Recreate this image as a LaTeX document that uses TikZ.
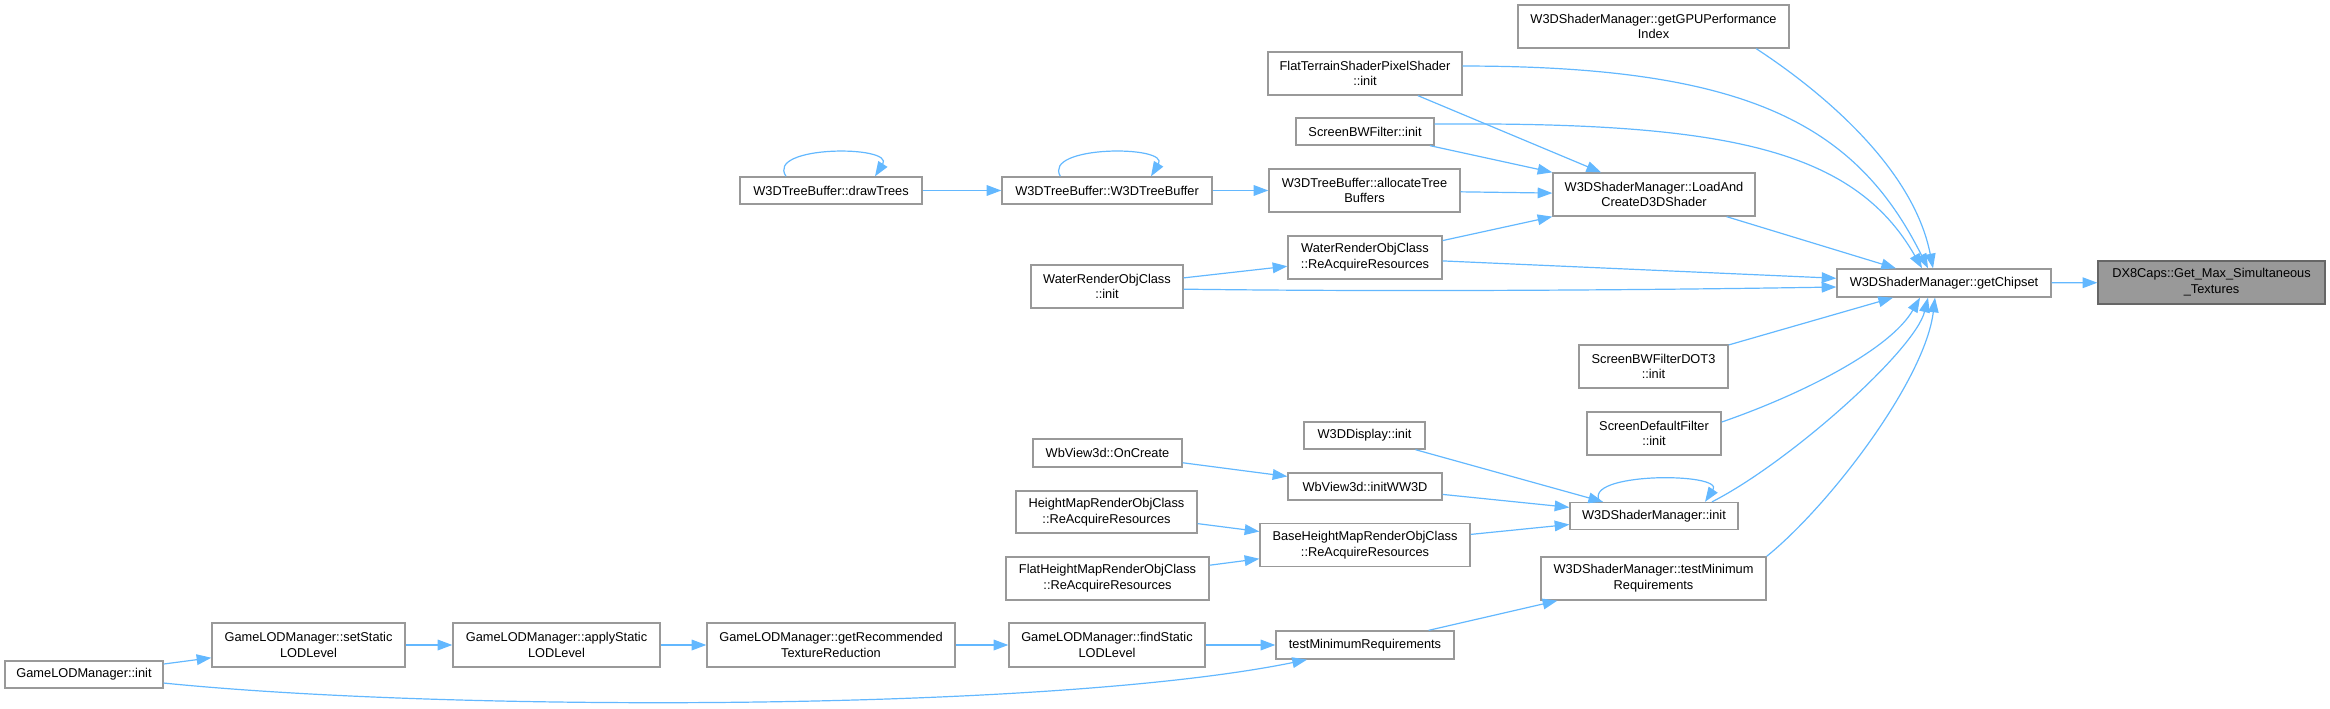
\documentclass[tikz,border=0pt]{standalone}
\usepackage{fontspec}
\setmainfont{Liberation Sans}
\usepackage{tikz}
\usetikzlibrary{arrows.meta}
\definecolor{edgeblue}{HTML}{63B8FF}
\definecolor{boxline}{HTML}{999999}
\definecolor{rootline}{HTML}{666666}
\definecolor{rootfill}{HTML}{999999}

\begin{document}
\begin{tikzpicture}[x=0.75pt,y=-0.75pt,
  fn/.style={draw=boxline,fill=white,line width=1pt,inner sep=0pt,align=center,
    font=\fontsize{9.6}{11.8}\selectfont},
  sz/.style 2 args={minimum width=#1*0.75pt,minimum height=#2*0.75pt},
  lnk/.style={edgeblue,line width=0.9pt,-{Triangle[length=11pt,width=8pt]}}]
  \useasboundingbox (0,0) rectangle (2330,709);
  % columns from right to left
  \node[fn,draw=rootline,fill=rootfill,sz={227}{43}] (dx8) at (2211.5,282.5) {DX8Caps::Get\_Max\_Simultaneous\\\_Textures};
  \node[fn,sz={214}{28}] (chip) at (1944,283) {W3DShaderManager::getChipset};
  \node[fn,sz={271}{43}] (gpu) at (1653.5,26.5) {W3DShaderManager::getGPUPerformance\\Index};
  \node[fn,sz={202}{43}] (load) at (1654,194.5) {W3DShaderManager::LoadAnd\\CreateD3DShader};
  \node[fn,sz={149}{43}] (dot3) at (1653.5,366.5) {ScreenBWFilterDOT3\\::init};
  \node[fn,sz={134}{43}] (sdf) at (1654,433.5) {ScreenDefaultFilter\\::init};
  \node[fn,sz={168}{27}] (sminit) at (1654,516) {W3DShaderManager::init};
  \node[fn,sz={225}{43}] (smtest) at (1653.5,578.5) {W3DShaderManager::testMinimum\\Requirements};
  \node[fn,sz={194}{43}] (flatps) at (1365,73.5) {FlatTerrainShaderPixelShader\\::init};
  \node[fn,sz={138}{27}] (bwf) at (1365,131.5) {ScreenBWFilter::init};
  \node[fn,sz={191}{43}] (alloc) at (1364.5,190.5) {W3DTreeBuffer::allocateTree\\Buffers};
  \node[fn,sz={154}{43}] (wreacq) at (1365,257.5) {WaterRenderObjClass\\::ReAcquireResources};
  \node[fn,sz={121}{27}] (disp) at (1364.5,435.5) {W3DDisplay::init};
  \node[fn,sz={154}{27}] (initww) at (1365,486.5) {WbView3d::initWW3D};
  \node[fn,sz={210}{43}] (base) at (1365,545) {BaseHeightMapRenderObjClass\\::ReAcquireResources};
  \node[fn,sz={178}{28}] (testmin) at (1365,645) {testMinimumRequirements};
  \node[fn,sz={210}{27}] (ctor) at (1107,190.5) {W3DTreeBuffer::W3DTreeBuffer};
  \node[fn,sz={152}{43}] (winit) at (1107,286.5) {WaterRenderObjClass\\::init};
  \node[fn,sz={149}{28}] (oncreate) at (1107.5,453) {WbView3d::OnCreate};
  \node[fn,sz={181}{42}] (hmap) at (1106.5,512) {HeightMapRenderObjClass\\::ReAcquireResources};
  \node[fn,sz={203}{43}] (flathm) at (1107.5,578.5) {FlatHeightMapRenderObjClass\\::ReAcquireResources};
  \node[fn,sz={196}{44}] (findstatic) at (1107,645) {GameLODManager::findStatic\\LODLevel};
  \node[fn,sz={182}{27}] (drawtr) at (831,190.5) {W3DTreeBuffer::drawTrees};
  \node[fn,sz={248}{44}] (getrec) at (831,645) {GameLODManager::getRecommended\\TextureReduction};
  \node[fn,sz={207}{44}] (applystatic) at (556.5,645) {GameLODManager::applyStatic\\LODLevel};
  \node[fn,sz={193}{44}] (setstatic) at (308.5,645) {GameLODManager::setStatic\\LODLevel};
  \node[fn,sz={158}{27}] (lodinit) at (84,674.5) {GameLODManager::init};
  % calls
  \foreach \a/\b in {chip/dx8,load/chip,flatps/load,bwf/load,alloc/load,wreacq/load,wreacq/chip,
    winit/wreacq,ctor/alloc,drawtr/ctor,dot3/chip,disp/sminit,initww/sminit,base/sminit,
    oncreate/initww,hmap/base,flathm/base,testmin/smtest,findstatic/testmin,getrec/findstatic,
    applystatic/getrec,setstatic/applystatic,lodinit/setstatic}
    \draw[lnk] (\a) -- (\b);
  \draw[lnk] ([xshift=77pt]gpu.south) .. controls (1818,89) and (1913,166) .. ([xshift=-8.25pt]chip.north);
  \draw[lnk] ([yshift=5.6pt]flatps.east) .. controls (1747,66) and (1856,124) .. ([xshift=-12pt]chip.north);
  \draw[lnk] ([yshift=5.6pt]bwf.east) .. controls (1721,122) and (1853,147) .. ([xshift=-16.5pt]chip.north);
  \draw[lnk] ([yshift=-2pt]winit.east) .. controls (1400,292) and (1650,290) .. ([yshift=-3pt]chip.west);
  \draw[lnk] ([yshift=8.6pt]sdf.east) .. controls (1800,395) and (1890,350) .. ([xshift=-18pt]chip.south);
  \draw[lnk] ([xshift=43.5pt]sminit.north) .. controls (1790,462) and (1915,350) .. ([xshift=-12pt]chip.south);
  \draw[lnk] (smtest.north east) .. controls (1830,505) and (1925,380) .. ([xshift=-6.75pt]chip.south);
  \draw[lnk] ([yshift=-6.4pt]lodinit.east) .. controls (450,712) and (1050,712) .. ([xshift=-43.5pt]testmin.south);
  % recursion
  \draw[lnk] ([xshift=-33.75pt]drawtr.north) .. controls (765,145) and (895,145) .. ([xshift=33pt]drawtr.north);
  \draw[lnk] ([xshift=-35pt]ctor.north) .. controls (1042,145) and (1170,145) .. ([xshift=33pt]ctor.north);
  \draw[lnk] ([xshift=-40.5pt]sminit.north) .. controls (1580,472) and (1725,472) .. ([xshift=38.25pt]sminit.north);
\end{tikzpicture}
\end{document}
